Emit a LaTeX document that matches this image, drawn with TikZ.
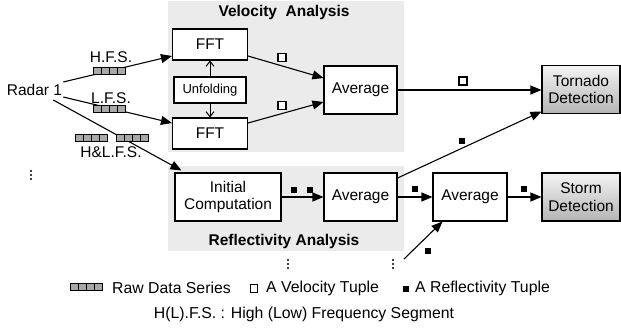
\documentclass[tikz,border=0pt]{standalone}
\usepackage{fontspec}
\setmainfont{Liberation Sans}
\usetikzlibrary{arrows.meta}
\definecolor{panelgray}{HTML}{EBEBEB}
\definecolor{cellgray}{HTML}{A8A8A8}
\definecolor{dettop}{HTML}{F4F4F4}
\definecolor{detbot}{HTML}{B4B4B4}
\begin{document}
\begin{tikzpicture}[x=1pt,y=-1pt,
  txt/.style={font=\fontsize{15.5}{17}\selectfont, inner sep=0pt},
  legtxt/.style={font=\fontsize{15.8}{17}\selectfont, inner sep=0pt},
  box/.style={draw, line width=1.1pt, fill=white, align=center, inner sep=0pt,
              font=\fontsize{15.5}{17.5}\selectfont},
  detbox/.style={box, top color=dettop, bottom color=detbot},
  conn/.style={line width=1.1pt, -{Triangle[length=11pt,width=9pt]}},
  openconn/.style={line width=1pt, -{Straight Barb[length=5pt,width=8pt]}},
  titletxt/.style={font=\bfseries\fontsize{15.5}{17}\selectfont, inner sep=0pt},
  vsq/.style={draw, line width=1.1pt, fill=white, minimum size=8pt, inner sep=0pt},
  rsq/.style={fill=black, minimum size=6.5pt, inner sep=0pt},
  rawseries/.pic={
    \foreach \i in {0,1,2,3}
      \draw[fill=cellgray, line width=0.8pt] (-16+8*\i,-3.5) rectangle ++(8,7);
  },
  vdot/.pic={
    \foreach \j in {-4,0,4} \fill (0,\j) circle (1.1pt);
  }
]
\useasboundingbox (0,0) rectangle (621,333);

% panels
\fill[panelgray] (168,1) rectangle (404,152);
\fill[panelgray] (168,166) rectangle (404,251);
\node[titletxt] (vtitle) at (284,12) {Velocity\ \ Analysis};
\node[titletxt] (rtitle) at (284,241) {Reflectivity Analysis};

% boxes
\node[box, minimum width=75pt, minimum height=31pt] (fft1) at (210,44.5) {FFT};
\node[box, minimum width=72pt, minimum height=26pt, font=\fontsize{13}{15}\selectfont] (unf) at (210,90) {Unfolding};
\node[box, minimum width=75pt, minimum height=31pt] (fft2) at (210,133.5) {FFT};
\node[box, minimum width=73pt, minimum height=48pt] (avg1) at (360.5,90) {Average};
\node[detbox, minimum width=78pt, minimum height=48pt] (tornado) at (581,89.5) {Tornado\\Detection};
\node[box, minimum width=106pt, minimum height=48pt] (ic) at (228,197) {Initial\\Computation};
\node[box, minimum width=73pt, minimum height=48pt] (avg2) at (360.5,197) {Average};
\node[box, minimum width=74pt, minimum height=48pt] (avg3) at (470,197) {Average};
\node[detbox, minimum width=78pt, minimum height=48pt] (storm) at (581,197) {Storm\\Detection};

% radar
\node[txt] (radar) at (34.5,90) {Radar 1};

% connectors from radar
\draw[conn] ([shift={(1,-8)}]radar.east) -- ([shift={(0,11.5)}]fft1.west);
\draw[conn] ([shift={(1,7)}]radar.east) -- ([shift={(0,-10.5)}]fft2.west);
\draw[conn] ([shift={(-9,10)}]radar.east) -- ([shift={(7,-2)}]ic.north west);

% raw data series on the lines
\pic at (109,70.5) {rawseries};
\pic at (109,108.5) {rawseries};
\pic at (91,138) {rawseries};
\pic at (132,138) {rawseries};
\node[txt] (hfs) at (111,57) {H.F.S.};
\node[txt] (lfs) at (111,98) {L.F.S.};
\node[txt] (hlfs) at (111,152) {H\&L.F.S.};

% velocity part
\draw[openconn] (unf.north) -- (fft1.south);
\draw[openconn] (unf.south) -- (fft2.north);
\draw[conn] ([shift={(0,11.5)}]fft1.east) -- ([shift={(0,-12)}]avg1.west);
\draw[conn] ([shift={(0,-10.5)}]fft2.east) -- ([shift={(0,12)}]avg1.west);
\draw[conn] (avg1.east) -- (tornado.west |- avg1.east);

% reflectivity part
\draw[conn] (ic.east) -- (avg2.west);
\draw[conn] (avg2.east) -- (avg3.west);
\draw[conn] (avg3.east) -- (storm.west);
\draw[conn] ([shift={(0,-19)}]avg2.east) -- ([shift={(0,22)}]tornado.west);
\coordinate (dotsrc) at (404,259);
\draw[conn] (dotsrc) -- ([shift={(10,0)}]avg3.south west);

% tuple markers
\node[vsq] (v1) at (282,57.5) {};
\node[vsq] (v2) at (282,105.5) {};
\node[vsq] (v3) at (463,81) {};
\node[rsq] (r1) at (294,190) {};
\node[rsq] (r2) at (310,190) {};
\node[rsq] (r3) at (415,189) {};
\node[rsq] (r4) at (524,189) {};
\node[rsq] (r5) at (462,141) {};
\node[rsq] (r6) at (428,251) {};

% vertical dots
\pic at (31,175) {vdot};
\pic at (288,264) {vdot};
\pic at (393,264) {vdot};

% legend
\pic at (86,287) {rawseries};
\node[legtxt, anchor=west] (lraw) at (112,288) {Raw Data Series};
\node[vsq, minimum size=7.5pt] (lv) at (254,288.5) {};
\node[legtxt, anchor=west] (lvt) at (266,288) {A Velocity Tuple};
\node[rsq, minimum size=6pt] (lr) at (406,289) {};
\node[legtxt, anchor=west] (lrt) at (415,288) {A Reflectivity Tuple};
\node[legtxt] (lhl) at (304,314) {H(L).F.S. : High (Low) Frequency Segment};
\end{tikzpicture}
\end{document}
